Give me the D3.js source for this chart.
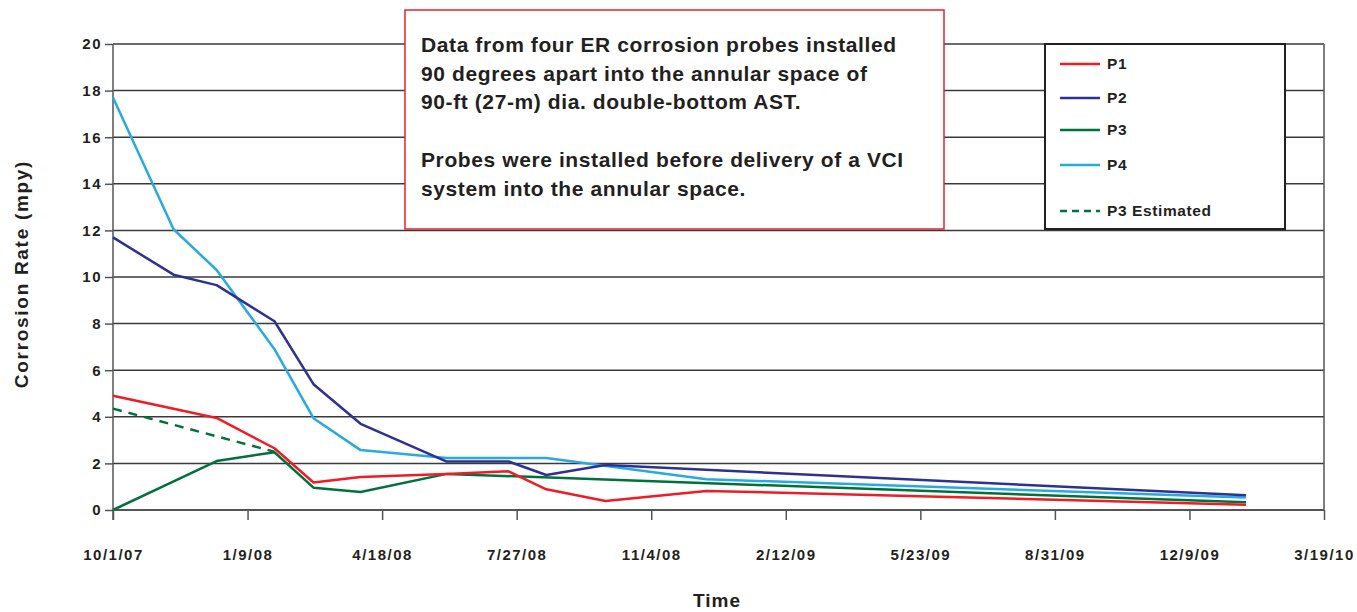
<!DOCTYPE html>
<html>
<head>
<meta charset="utf-8">
<script src="https://cdn.jsdelivr.net/npm/d3@7"></script>
<style>
  body { margin: 0; background: #fff; }
  text { font-family: "Liberation Sans", Arial, sans-serif; font-weight: bold; fill: #231f20; }
</style>
</head>
<body>
<div id="chart"></div>
<script>
// data
var dates = ["2007-10-01", "2007-11-15", "2007-12-17", "2008-01-29", "2008-02-27", "2008-04-02",
             "2008-06-05", "2008-07-21", "2008-08-18", "2008-10-01", "2008-12-15", "2010-01-20"];
var p1 = [4.9, null, 3.95, 2.65, 1.18, 1.42, 1.55, 1.66, 0.89, 0.39, 0.82, 0.23];
var p2 = [11.7, 10.1, 9.65, 8.1, 5.4, 3.7, 2.08, 2.08, 1.5, 1.93, null, 0.63];
var p3 = [0, null, 2.1, 2.48, 0.96, 0.77, 1.55, null, null, null, null, 0.33];
var p4 = [17.7, 12.05, 10.3, 6.9, 3.94, 2.57, 2.23, 2.23, 2.23, null, 1.32, 0.54];
var p3EstDates = ["2007-10-01", "2008-01-29"];
var p3Est = [4.35, 2.5];
var yTicks = [0, 2, 4, 6, 8, 10, 12, 14, 16, 18, 20];
var xTickLabels = ["10/1/07", "1/9/08", "4/18/08", "7/27/08", "11/4/08", "2/12/09", "5/23/09", "8/31/09", "12/9/09", "3/19/10"];
var seriesNames = ["P1", "P2", "P3", "P4", "P3 Estimated"];
var noteLines = ["Data from four ER corrosion probes installed",
                 "90 degrees apart into the annular space of",
                 "90-ft (27-m) dia. double-bottom AST.",
                 "",
                 "Probes were installed before delivery of a VCI",
                 "system into the annular space."];

var colors = {P1: "#ee1c25", P2: "#2e3192", P3: "#00703c", P4: "#27aae1"};

var W = 1357, H = 612;
var plotLeft = 113, plotRight = 1324, plotTop = 44, plotBottom = 510;

var parse = d3.timeParse("%Y-%m-%d");
var start = parse("2007-10-01");
var tickDates = xTickLabels.map(function(d, i) { return d3.timeDay.offset(start, i * 100); });

var x = d3.scaleTime().domain([start, tickDates[tickDates.length - 1]]).range([plotLeft, plotRight]);
var y = d3.scaleLinear().domain([0, 20]).range([plotBottom, plotTop]);

var svg = d3.select("#chart").append("svg")
    .attr("width", W)
    .attr("height", H);

// horizontal grid
svg.append("g")
   .selectAll("line")
   .data(yTicks.filter(function(d) { return d > 0; })).enter()
   .append("line")
   .attr("x1", plotLeft).attr("x2", plotRight)
   .attr("y1", function(d) { return y(d); })
   .attr("y2", function(d) { return y(d); })
   .attr("stroke", "#3a3a3a")
   .attr("stroke-width", 1.5);

// right border
svg.append("line")
   .attr("x1", plotRight).attr("x2", plotRight)
   .attr("y1", plotTop).attr("y2", plotBottom)
   .attr("stroke", "#555").attr("stroke-width", 1.5);

var xAxis = d3.axisBottom(x)
    .tickValues(tickDates)
    .tickSize(10)
    .tickPadding(29)
    .tickFormat(function(d, i) { return xTickLabels[i]; });

var yAxis = d3.axisLeft(y)
    .tickValues(yTicks)
    .tickSize(8)
    .tickPadding(3);

var xx = svg.append("g")
    .attr("transform", "translate(0," + plotBottom + ")")
    .call(xAxis);

var yy = svg.append("g")
    .attr("transform", "translate(" + plotLeft + ",0)")
    .call(yAxis);

[xx, yy].forEach(function(g) {
  g.select(".domain").remove();
  g.selectAll(".tick line").attr("stroke", "#555").attr("stroke-width", 1.5);
  g.selectAll(".tick text")
   .attr("fill", "#231f20")
   .style("font-family", "Liberation Sans, Arial, sans-serif")
   .style("font-weight", "bold")
   .style("font-size", "15px")
   .style("letter-spacing", "1.5px");
});

// axis lines
svg.append("line")
   .attr("x1", plotLeft).attr("x2", plotRight)
   .attr("y1", plotBottom).attr("y2", plotBottom)
   .attr("stroke", "#555").attr("stroke-width", 2);
svg.append("line")
   .attr("x1", plotLeft).attr("x2", plotLeft)
   .attr("y1", plotTop).attr("y2", plotBottom + 10)
   .attr("stroke", "#555").attr("stroke-width", 1.5);

var line = d3.line()
    .x(function(d) { return x(d.date); })
    .y(function(d) { return y(d.value); });

function points(ds, vs) {
  return vs.map(function(v, i) { return {date: parse(ds[i]), value: v}; })
           .filter(function(d) { return d.value != null; });
}

var series = [
  {name: "P3", values: p3},
  {name: "P1", values: p1},
  {name: "P4", values: p4},
  {name: "P2", values: p2}
];

svg.append("g")
   .selectAll("path")
   .data(series).enter()
   .append("path")
   .attr("d", function(d) { return line(points(dates, d.values)); })
   .attr("fill", "none")
   .attr("stroke", function(d) { return colors[d.name]; })
   .attr("stroke-width", 2.5)
   .attr("stroke-linejoin", "round");

svg.append("path")
   .attr("d", line(points(p3EstDates, p3Est)))
   .attr("fill", "none")
   .attr("stroke", colors.P3)
   .attr("stroke-width", 2.5)
   .attr("stroke-dasharray", "9,7");

// axis titles
svg.append("text")
   .attr("transform", "translate(28,274) rotate(-90)")
   .attr("text-anchor", "middle")
   .style("font-size", "19px")
   .style("letter-spacing", "1.7px")
   .text("Corrosion Rate (mpy)");

svg.append("text")
   .attr("x", 717).attr("y", 607)
   .attr("text-anchor", "middle")
   .style("font-size", "19px")
   .style("letter-spacing", "1px")
   .text("Time");

// note box
svg.append("rect")
   .attr("x", 405).attr("y", 10)
   .attr("width", 539).attr("height", 219)
   .attr("fill", "#fff")
   .attr("stroke", "#e8202a")
   .attr("stroke-width", 1.5);

svg.append("g")
   .selectAll("text")
   .data(noteLines).enter()
   .append("text")
   .attr("x", 421)
   .attr("y", function(d, i) { return 52 + i * 28.7; })
   .style("font-size", "21px")
   .style("letter-spacing", "0.6px")
   .text(function(d) { return d; });

// legend
svg.append("rect")
   .attr("x", 1045).attr("y", 44)
   .attr("width", 240).attr("height", 185)
   .attr("fill", "#fff")
   .attr("stroke", "#231f20")
   .attr("stroke-width", 2);

var legendY = [64, 98, 130, 165, 211];
var lg = svg.append("g")
   .selectAll("g")
   .data(seriesNames).enter()
   .append("g")
   .attr("transform", function(d, i) { return "translate(1060," + legendY[i] + ")"; });

lg.append("line")
  .attr("x1", 0).attr("x2", 40)
  .attr("stroke", function(d) { return d == "P3 Estimated" ? colors.P3 : colors[d]; })
  .attr("stroke-width", 2.5)
  .attr("stroke-dasharray", function(d) { return d == "P3 Estimated" ? "7,5" : null; });

lg.append("text")
  .attr("x", 47)
  .attr("dy", "0.35em")
  .style("font-size", "15.5px")
  .style("letter-spacing", "0.6px")
  .text(function(d) { return d; });
</script>
</body>
</html>
